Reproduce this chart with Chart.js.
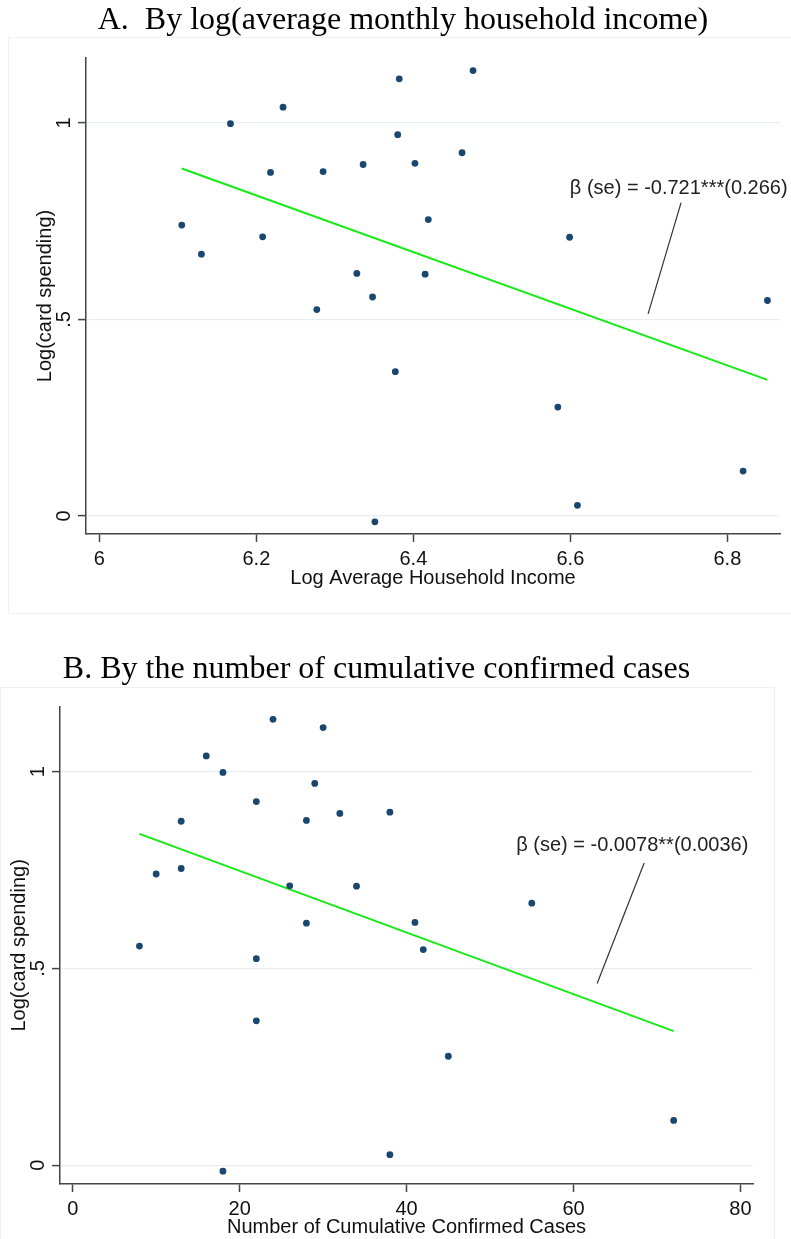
<!DOCTYPE html>
<html>
<head>
<meta charset="utf-8">
<script src="https://cdn.jsdelivr.net/npm/chart.js@4/dist/chart.umd.min.js"></script>
<style>
body { margin: 0; background: #fff; }
#wrap { position: relative; width: 791px; height: 1239px; }
.frame { position: absolute; border: 1px solid #f1f1f1; }
canvas { position: absolute; left: 0; }
</style>
</head>
<body>
<div id="wrap">
	<div class="frame" style="left:8px;top:37px;width:782px;height:575px"></div>
	<div class="frame" style="left:0;top:687px;width:773px;height:552px"></div>
	<canvas id="chartA" width="791" height="620" style="top:0"></canvas>
	<canvas id="chartB" width="791" height="609" style="top:630px"></canvas>
</div>
<script>
// one value per region, same order in every array
var spending  = [1.133, 1.112, 1.040, 0.998, 0.970, 0.924, 0.897, 0.894, 0.876, 0.874, 0.754, 0.740, 0.710, 0.709, 0.666, 0.617, 0.615, 0.557, 0.548, 0.525, 0.367, 0.277, 0.114, 0.027, -0.015];
var logIncome = [6.476, 6.382, 6.234, 6.167, 6.380, 6.462, 6.402, 6.336, 6.285, 6.218, 6.419, 6.105, 6.208, 6.599, 6.130, 6.328, 6.415, 6.348, 6.851, 6.277, 6.377, 6.584, 6.820, 6.609, 6.351];
var cases     = [24, 30, 16, 18, 29, 22, 38, 32, 28, 13, 13, 10, 26, 34, 55, 41, 28, 8, 42, 22, 22, 45, 72, 38, 18];

var incomeTicks = [6, 6.2, 6.4, 6.6, 6.8];
var casesTicks = [0, 20, 40, 60, 80];
var spendTicks = [0, 0.5, 1];
var spendTickLabels = ['0', '.5', '1'];

// fitted lines (ends)
var fitIncomeX = [6.105, 6.851];
var fitIncomeY = [0.884, 0.346];
var fitCasesX = [8, 72];
var fitCasesY = [0.842, 0.341];

// annotation pointers
var noteIncomeX = [6.741, 6.699];
var noteIncomeY = [0.797, 0.514];
var noteCasesX = [68.46, 62.83];
var noteCasesY = [0.768, 0.462];

var SANS = '"Liberation Sans", Arial, sans-serif';
var SERIF = '"Liberation Serif", "Times New Roman", serif';
var AXIS = '#444';

function pairs(xs, ys) {
	return xs.map(function (x, i) { return {x: x, y: ys[i]}; });
}

// beta text drawn at a data position
var noteText = {
	id: 'noteText',
	afterDatasetsDraw: function (chart, args, opts) {
		var ctx = chart.ctx;
		var px = chart.scales.x.getPixelForValue(opts.x);
		var py = chart.scales.y.getPixelForValue(opts.y);
		ctx.save();
		ctx.font = '20px ' + SANS;
		ctx.fillStyle = '#222';
		ctx.textAlign = 'center';
		ctx.textBaseline = 'middle';
		ctx.fillText(opts.text, px, py);
		ctx.restore();
	}
};

function makeChart(id, p) {
	var context = document.getElementById(id).getContext('2d');
	return new Chart(context, {
		type: 'scatter',
		data: {
			datasets: [
				{
					data: pairs(p.xs, spending),
					backgroundColor: '#1a476f',
					borderWidth: 0,
					pointRadius: 3.4
				},
				{
					data: pairs(p.fitX, p.fitY),
					showLine: true,
					borderColor: 'rgb(20,235,20)',
					borderWidth: 2,
					pointRadius: 0
				},
				{
					data: pairs(p.noteX, p.noteY),
					showLine: true,
					borderColor: '#333',
					borderWidth: 1.2,
					pointRadius: 0
				}
			]
		},
		options: {
			responsive: false,
			animation: false,
			devicePixelRatio: 1,
			layout: {padding: p.pad},
			plugins: {
				legend: {display: false},
				tooltip: {enabled: false},
				title: {
					display: true,
					text: p.title,
					color: '#000',
					font: {family: SERIF, size: 32, weight: 'normal'},
					padding: p.titlePad
				},
				noteText: p.note
			},
			scales: {
				x: {
					type: 'linear',
					min: p.xMin,
					max: p.xMax,
					afterBuildTicks: function (s) {
						s.ticks = p.xTicks.map(function (v) { return {value: v}; });
					},
					afterFit: function (s) { s.height = p.xH; },
					grid: {drawOnChartArea: false, tickLength: 8, tickColor: AXIS, tickWidth: 1.5},
					border: {display: true, color: AXIS, width: 1.5},
					ticks: {
						padding: 5,
						color: '#111',
						maxRotation: 0,
						font: {family: SANS, size: 20},
						callback: function (v) { return String(v); }
					},
					title: {display: true, text: p.xTitle, color: '#111', padding: 0, font: {family: SANS, size: 20}}
				},
				y: {
					type: 'linear',
					min: p.yMin,
					max: 1.165,
					afterBuildTicks: function (s) {
						s.ticks = spendTicks.map(function (v) { return {value: v}; });
					},
					afterFit: function (s) { s.width = 60; },
					grid: {color: '#e6edf3', lineWidth: 1.2, tickLength: 8, tickColor: AXIS, tickWidth: 1.5},
					border: {display: true, color: AXIS, width: 1.5},
					ticks: {
						padding: 5,
						color: '#111',
						minRotation: 90,
						maxRotation: 90,
						crossAlign: 'center',
						font: {family: SANS, size: 20},
						callback: function (v) { return spendTickLabels[spendTicks.indexOf(v)]; }
					},
					title: {display: true, text: 'Log(card spending)', color: '#111', padding: {top: 7, bottom: 0}, font: {family: SANS, size: 20}}
				}
			}
		},
		plugins: [noteText]
	});
}

makeChart('chartA', {
	title: 'A.  By log(average monthly household income)',
	titlePad: {top: 1.5, bottom: 18.1},
	pad: {left: 26, right: 11, top: 0, bottom: 30},
	xs: logIncome,
	xMin: 5.983, xMax: 6.867, xTicks: incomeTicks, xH: 56,
	yMin: -0.046,
	xTitle: 'Log Average Household Income',
	fitX: fitIncomeX, fitY: fitIncomeY,
	noteX: noteIncomeX, noteY: noteIncomeY,
	note: {text: 'β (se) = -0.721***(0.266)', x: 6.738, y: 0.834}
});

makeChart('chartB', {
	title: 'B. By the number of cumulative confirmed cases',
	titlePad: {top: 20, bottom: 18.3},
	pad: {left: 0, right: 38, top: 0, bottom: 0},
	xs: cases,
	xMin: -1.52, xMax: 81.5, xTicks: casesTicks, xH: 55,
	yMin: -0.0475,
	xTitle: 'Number of Cumulative Confirmed Cases',
	fitX: fitCasesX, fitY: fitCasesY,
	noteX: noteCasesX, noteY: noteCasesY,
	note: {text: 'β (se) = -0.0078**(0.0036)', x: 67.04, y: 0.813}
});
</script>
</body>
</html>
